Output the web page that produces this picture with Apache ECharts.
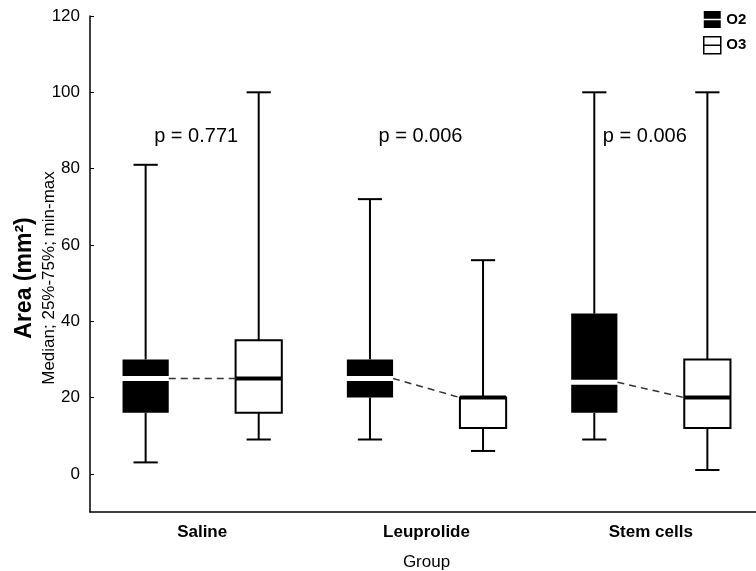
<!DOCTYPE html>
<html lang="en">
<head>
  <meta charset="UTF-8">
  <title>Area by group</title>
  <script src="https://cdn.jsdelivr.net/npm/echarts@6/dist/echarts.min.js"></script>
</head>
<body style="margin:0">
  <div id="main" style="width: 756px;height:571px;"></div>
  <script>
    var myChart = echarts.init(document.getElementById('main'));

    // groups on the x axis
    var categories = ['Saline', 'Leuprolide', 'Stem cells'];

    // O2 : min, 25%, median, 75%, max
    var o2Min = [3, 9, 9];
    var o2Q1 = [16, 20, 16];
    var o2Med = [25, 25, 24];
    var o2Q3 = [30, 30, 42];
    var o2Max = [81, 72, 100];

    // O3 : min, 25%, median, 75%, max
    var o3Min = [9, 6, 1];
    var o3Q1 = [16, 12, 12];
    var o3Med = [25, 20, 20];
    var o3Q3 = [35, 20, 30];
    var o3Max = [100, 56, 100];

    var pLabels = ['p = 0.771', 'p = 0.006', 'p = 0.006'];
    var yTicks = [0, 20, 40, 60, 80, 100, 120];

    var FONT = 'Liberation Sans, Arial, sans-serif';

    function boxData(mn, q1, med, q3, mx) {
      return categories.map(function (c, i) {
        return [i, mn[i], q1[i], med[i], q3[i], mx[i]];
      });
    }

    // side: -1 left box (O2), +1 right box (O3)
    function renderBox(side, filled) {
      return function (params, api) {
        var idx = api.value(0);
        var band = api.size([1, 0])[0];
        var cx = api.coord([idx, 0])[0] + side * band * 0.252;
        var half = band * 0.103;
        var cap = band * 0.054;
        var yMin = api.coord([idx, api.value(1)])[1];
        var yQ1 = api.coord([idx, api.value(2)])[1];
        var yMed = api.coord([idx, api.value(3)])[1];
        var yQ3 = api.coord([idx, api.value(4)])[1];
        var yMax = api.coord([idx, api.value(5)])[1];
        var ln = { stroke: '#000', lineWidth: 2 };
        var children = [
          { type: 'line', shape: { x1: cx, y1: yMax, x2: cx, y2: yQ3 }, style: ln },
          { type: 'line', shape: { x1: cx - cap, y1: yMax, x2: cx + cap, y2: yMax }, style: ln },
          { type: 'line', shape: { x1: cx, y1: yQ1, x2: cx, y2: yMin }, style: ln },
          { type: 'line', shape: { x1: cx - cap, y1: yMin, x2: cx + cap, y2: yMin }, style: ln }
        ];
        if (filled) {
          children.push({ type: 'rect', shape: { x: cx - half, y: yQ3, width: half * 2, height: yQ1 - yQ3 }, style: { fill: '#000' } });
          // white gap marks the median
          children.push({ type: 'rect', shape: { x: cx - half - 1, y: yMed - 2.5, width: half * 2 + 2, height: 5 }, style: { fill: '#fff' } });
        } else {
          children.push({ type: 'rect', shape: { x: cx - half, y: yQ3, width: half * 2, height: yQ1 - yQ3 }, style: { fill: '#fff', stroke: '#000', lineWidth: 2 } });
          children.push({ type: 'line', shape: { x1: cx - half, y1: yMed, x2: cx + half, y2: yMed }, style: { stroke: '#000', lineWidth: 4 } });
        }
        return { type: 'group', children: children };
      };
    }

    // dashed link between the two medians
    function renderLink(params, api) {
      var idx = api.value(0);
      var band = api.size([1, 0])[0];
      var cx = api.coord([idx, 0])[0];
      var off = band * 0.252, half = band * 0.103;
      var a = api.coord([idx, api.value(1)]);
      var b = api.coord([idx, api.value(2)]);
      return {
        type: 'line',
        shape: { x1: cx - off + half, y1: a[1], x2: cx + off - half, y2: b[1] },
        style: { stroke: '#333', lineWidth: 1.5, lineDash: [7, 5] }
      };
    }

    function renderP(params, api) {
      var idx = api.value(0);
      var p = api.coord([idx, 88.5]);
      return {
        type: 'text',
        x: p[0] - 6,
        y: p[1],
        style: { text: pLabels[idx], fontSize: 20, fontFamily: FONT, fill: '#000', align: 'center', verticalAlign: 'middle' }
      };
    }

    myChart.setOption({
      animation: false,
      backgroundColor: '#fff',
      grid: { left: 90, right: -7, top: 16, bottom: 59, outerBoundsMode: 'none', containLabel: false },
      legend: {
        orient: 'vertical',
        left: 703,
        top: 11,
        padding: 0,
        itemWidth: 18,
        itemHeight: 17,
        itemGap: 8,
        textStyle: { fontSize: 15, fontWeight: 'bold', fontFamily: FONT, color: '#000' },
        data: [
          { name: 'O2', icon: 'path://M0,0H16V7.2H0Z M0,8.8H16V16H0Z', itemStyle: { color: '#000', borderWidth: 0 } },
          { name: 'O3', icon: 'path://M0,0H16V16H0Z M0,8H16', itemStyle: { color: '#fff', borderColor: '#000', borderWidth: 1.5 } }
        ]
      },
      xAxis: {
        type: 'category',
        data: categories,
        name: 'Group',
        nameLocation: 'middle',
        nameGap: 42,
        nameMoveOverlap: false,
        nameTextStyle: { fontSize: 17, fontFamily: FONT, color: '#000' },
        axisLine: { onZero: false, lineStyle: { color: '#000', width: 1.5 } },
        axisTick: { inside: true, length: 4, alignWithLabel: true, lineStyle: { color: '#000' } },
        axisLabel: { fontSize: 17, fontWeight: 'bold', fontFamily: FONT, color: '#000', margin: 12 }
      },
      yAxis: {
        type: 'value',
        min: -10,
        max: 120,
        name: '{a|Area (mm²)}\n{b|Median; 25%-75%; min-max}',
        nameLocation: 'middle',
        nameRotate: 90,
        nameGap: 30,
        nameMoveOverlap: false,
        nameTextStyle: {
          padding: [0, 28, 0, 0],
          rich: {
            a: { fontSize: 23, fontWeight: 'bold', fontFamily: FONT, color: '#000', lineHeight: 26 },
            b: { fontSize: 17, fontFamily: FONT, color: '#000', lineHeight: 22 }
          }
        },
        splitLine: { show: false },
        axisLine: { show: true, lineStyle: { color: '#000', width: 1.5 } },
        axisTick: { show: true, inside: true, length: 4, customValues: yTicks, lineStyle: { color: '#000' } },
        axisLabel: { customValues: yTicks, fontSize: 17, fontFamily: FONT, color: '#000', margin: 10 }
      },
      series: [
        {
          name: 'O2',
          type: 'custom',
          renderItem: renderBox(-1, true),
          encode: { x: 0, y: [1, 2, 3, 4, 5] },
          itemStyle: { color: '#000' },
          data: boxData(o2Min, o2Q1, o2Med, o2Q3, o2Max)
        },
        {
          name: 'O3',
          type: 'custom',
          renderItem: renderBox(1, false),
          encode: { x: 0, y: [1, 2, 3, 4, 5] },
          itemStyle: { color: '#fff' },
          data: boxData(o3Min, o3Q1, o3Med, o3Q3, o3Max)
        },
        {
          name: 'median link',
          type: 'custom',
          renderItem: renderLink,
          encode: { x: 0, y: [1, 2] },
          data: categories.map(function (c, i) { return [i, o2Med[i], o3Med[i]]; })
        },
        {
          name: 'p value',
          type: 'custom',
          renderItem: renderP,
          encode: { x: 0 },
          data: categories.map(function (c, i) { return [i]; })
        }
      ]
    });
  </script>
</body>
</html>
